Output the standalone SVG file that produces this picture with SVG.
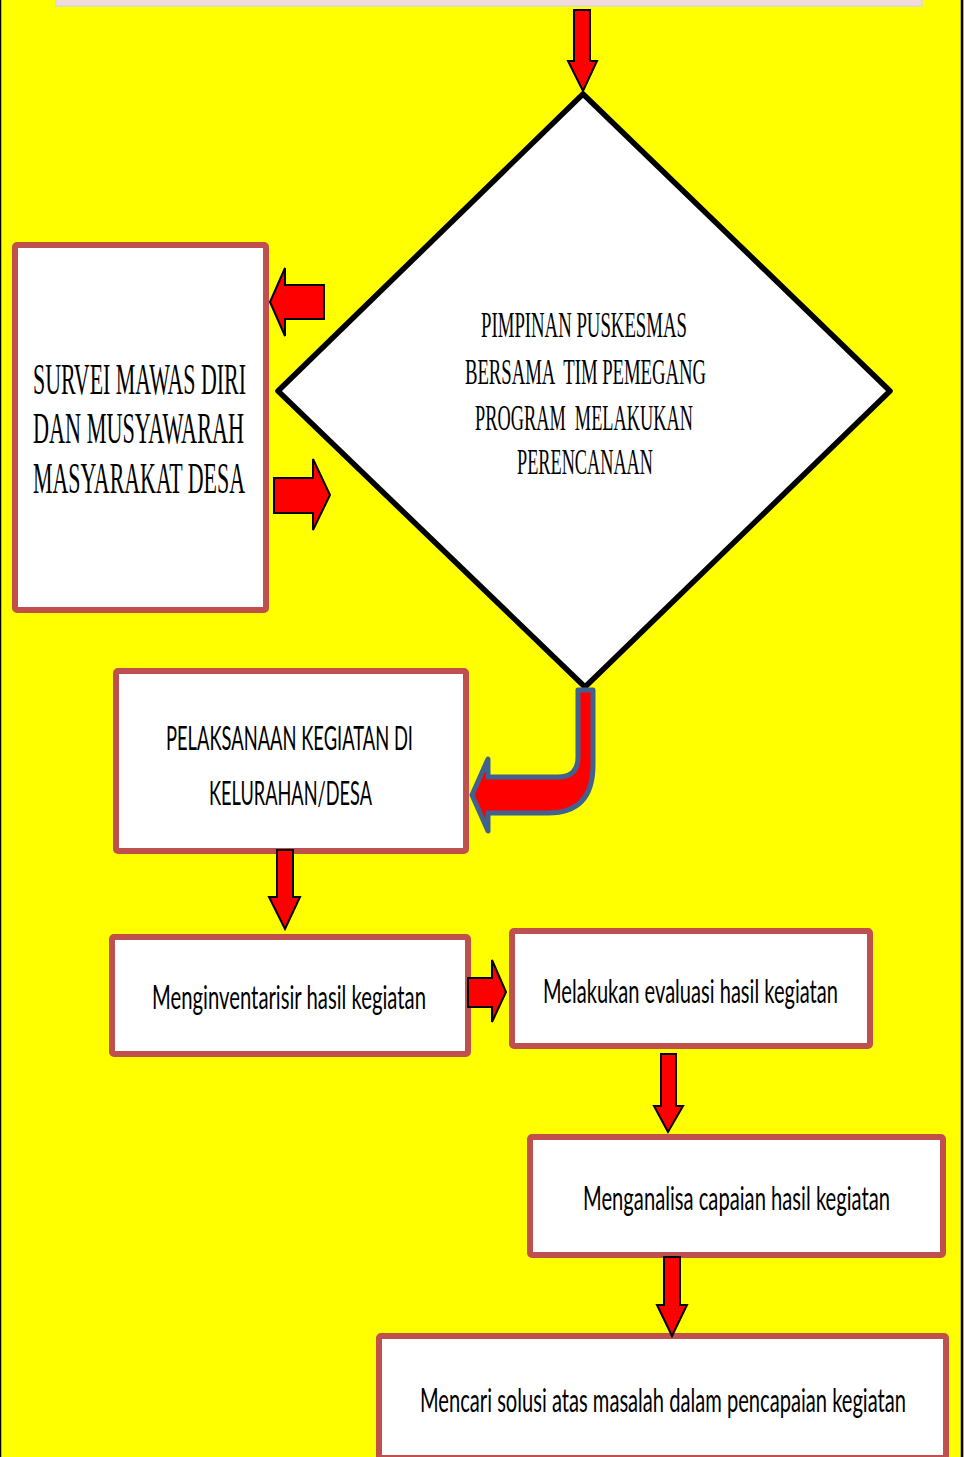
<svg xmlns="http://www.w3.org/2000/svg" width="964" height="1457" viewBox="0 0 964 1457">
<defs>
<style>
.box{fill:#ffffff;stroke:#c0504d;stroke-width:6;}
.arr{fill:#ff0000;stroke:#000000;stroke-width:2;stroke-linejoin:miter;}
.serif{font-family:"Liberation Serif","Times New Roman",serif;fill:#000;white-space:pre;}
.sans{font-family:Lato,"Liberation Sans",sans-serif;fill:#000;text-anchor:middle;}
</style>
</defs>
<rect x="0" y="0" width="964" height="1457" fill="#ffff00"/>
<line x1="0.5" y1="0" x2="0.5" y2="1457" stroke="#000" stroke-width="1.5"/>
<line x1="962" y1="0" x2="962" y2="1457" stroke="#000" stroke-width="2.5"/>

<g id="top-box">
<rect x="56" y="-4" width="866" height="10" fill="#f2dcdb" stroke="#d9d9d9" stroke-width="1.5"/>
</g>

<g id="decision">
<polygon points="583,94 890,391 585,687 278,391" fill="#ffffff" stroke="#000" stroke-width="5.5" stroke-linejoin="round"/>
<text class="serif" xml:space="preserve" font-size="35" x="481" y="337" textLength="206" lengthAdjust="spacingAndGlyphs">PIMPINAN PUSKESMAS</text>
<text class="serif" xml:space="preserve" font-size="35" x="465" y="384" textLength="241" lengthAdjust="spacingAndGlyphs">BERSAMA  TIM PEMEGANG</text>
<text class="serif" xml:space="preserve" font-size="35" x="475" y="430" textLength="218" lengthAdjust="spacingAndGlyphs">PROGRAM  MELAKUKAN</text>
<text class="serif" font-size="35" x="517" y="474" textLength="136" lengthAdjust="spacingAndGlyphs">PERENCANAAN</text>
</g>

<g id="survei">
<rect class="box" x="15" y="245" width="251" height="365" rx="2"/>
<text class="serif" font-size="44" x="33" y="394" textLength="213" lengthAdjust="spacingAndGlyphs">SURVEI MAWAS DIRI</text>
<text class="serif" font-size="44" x="33" y="443" textLength="211" lengthAdjust="spacingAndGlyphs">DAN MUSYAWARAH</text>
<text class="serif" font-size="44" x="33" y="493" textLength="212" lengthAdjust="spacingAndGlyphs">MASYARAKAT DESA</text>
</g>

<g id="pelaksanaan">
<rect class="box" x="116" y="671" width="350" height="180" rx="2"/>
<text class="sans" font-size="33" transform="translate(289.5,750) scale(0.65,1)" textLength="380" lengthAdjust="spacingAndGlyphs">PELAKSANAAN KEGIATAN DI</text>
<text class="sans" font-size="33" transform="translate(290.5,805) scale(0.65,1)" textLength="250.8" lengthAdjust="spacingAndGlyphs">KELURAHAN/DESA</text>
</g>

<g id="inventarisir">
<rect class="box" x="112" y="937" width="356" height="117" rx="2"/>
<text class="sans" font-size="32" transform="translate(289,1009) scale(0.65,1)" textLength="421.5" lengthAdjust="spacingAndGlyphs">Menginventarisir hasil kegiatan</text>
</g>

<g id="evaluasi">
<rect class="box" x="512" y="931" width="358" height="115" rx="2"/>
<text class="sans" font-size="32" transform="translate(690.5,1003) scale(0.65,1)" textLength="453.8" lengthAdjust="spacingAndGlyphs">Melakukan evaluasi hasil kegiatan</text>
</g>

<g id="analisa">
<rect class="box" x="530" y="1137" width="413" height="118" rx="2"/>
<text class="sans" font-size="32" transform="translate(736.5,1210) scale(0.65,1)" textLength="472.3" lengthAdjust="spacingAndGlyphs">Menganalisa capaian hasil kegiatan</text>
</g>

<g id="solusi">
<rect class="box" x="379" y="1336" width="567" height="122" rx="2"/>
<text class="sans" font-size="32" transform="translate(663,1412) scale(0.65,1)" textLength="747.7" lengthAdjust="spacingAndGlyphs">Mencari solusi atas masalah dalam pencapaian kegiatan</text>
</g>

<g id="connectors">
<polygon class="arr" points="574,10 590,10 590,61 597,61 583,91 568,61 574,61"/>
<polygon class="arr" points="324,285 324,319 285,319 285,336 270,302 285,268 285,285"/>
<polygon class="arr" points="274,478 313,478 313,459 330,495 313,530 313,513 274,513"/>
<path d="M 578 690 L 593 690 L 593 765 Q 593 813 548 813 L 488 813 L 488 831 L 472 795 L 488 759 L 488 777 L 558 777 Q 578 777 578 757 Z" fill="#ff0000" stroke="#41618e" stroke-width="5" stroke-linejoin="round"/>
<polygon class="arr" points="277,850 293,850 293,897 300,897 285,929 269,897 277,897"/>
<polygon class="arr" points="468,978 492,978 492,960 506,992 492,1022 492,1007 468,1007"/>
<polygon class="arr" points="661,1054 676,1054 676,1106 683,1106 668,1132 654,1106 661,1106"/>
<polygon class="arr" points="664,1257 680,1257 680,1305 687,1305 672,1336 657,1305 664,1305"/>
</g>
</svg>
